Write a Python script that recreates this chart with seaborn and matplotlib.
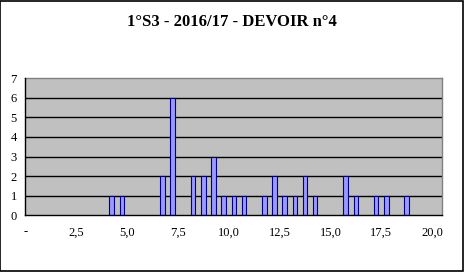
import matplotlib
matplotlib.use("Agg")
import matplotlib.pyplot as plt
import seaborn as sns
import numpy as np
import pandas as pd

# Data: score (category) -> number of students
scores = [4.0, 4.5, 6.5, 7.0, 8.0, 8.5, 9.0, 9.5, 10.0, 10.5, 11.5, 12.0,
          12.5, 13.0, 13.5, 14.0, 15.5, 16.0, 17.0, 17.5, 18.5]
counts = [1, 1, 2, 6, 2, 2, 3, 1, 1, 1, 1, 2,
          1, 1, 2, 1, 2, 1, 1, 1, 1]
categories = [i * 0.5 for i in range(41)]  # 0, 0.5, ..., 20
tick_labels = ["-", "2,5", "5,0", "7,5", "10,0", "12,5", "15,0", "17,5", "20,0"]
title = "1°S3 - 2016/17 - DEVOIR n°4"

sns.set_theme(style="white")
plt.rcParams["font.family"] = ["Liberation Serif", "DejaVu Serif"]

fig = plt.figure(figsize=(4.65, 2.72), dpi=100)
fig.patch.set_facecolor("white")
ax = fig.add_axes([0.0544, 0.2085, 0.8968, 0.5037])
ax.set_facecolor("#C0C0C0")

cat_labels = [f"{c:.1f}" for c in categories]
df = pd.DataFrame({"score": [f"{s:.1f}" for s in scores], "count": counts})
sns.barplot(data=df, x="score", y="count", order=cat_labels, ax=ax,
            color="#9999FF", saturation=1, width=0.45,
            edgecolor="#000080", linewidth=0.8, zorder=3)

ax.set_xlim(-0.5, len(categories) - 0.5)
ax.set_ylim(0, 7)
ax.set_yticks(range(0, 8))
ax.set_xticks([i * 5 - 0.5 for i in range(len(tick_labels))])
ax.set_xticklabels(tick_labels)
for y in range(1, 7):
    ax.axhline(y, color="black", linewidth=1, zorder=1)
ax.set_xlabel("")
ax.set_ylabel("")
ax.tick_params(axis="both", labelsize=9, colors="black", direction="out",
               length=4, width=0.8, pad=2)
ax.tick_params(axis="x", pad=4)
for side in ["top", "right"]:
    ax.spines[side].set_color("#808080")
    ax.spines[side].set_linewidth(1)
for side in ["left", "bottom"]:
    ax.spines[side].set_color("black")
    ax.spines[side].set_linewidth(1)
    ax.spines[side].set_zorder(4)

fig.text(0.498, 0.919, title, ha="center", va="center", fontsize=12,
         fontweight="bold", color="black")

# chart border
border = plt.Rectangle((0.001, 0.005), 0.995, 0.993, transform=fig.transFigure,
                       fill=False, edgecolor="black", linewidth=1.2)
fig.patches.append(border)

fig.savefig("out.png", dpi=100)
